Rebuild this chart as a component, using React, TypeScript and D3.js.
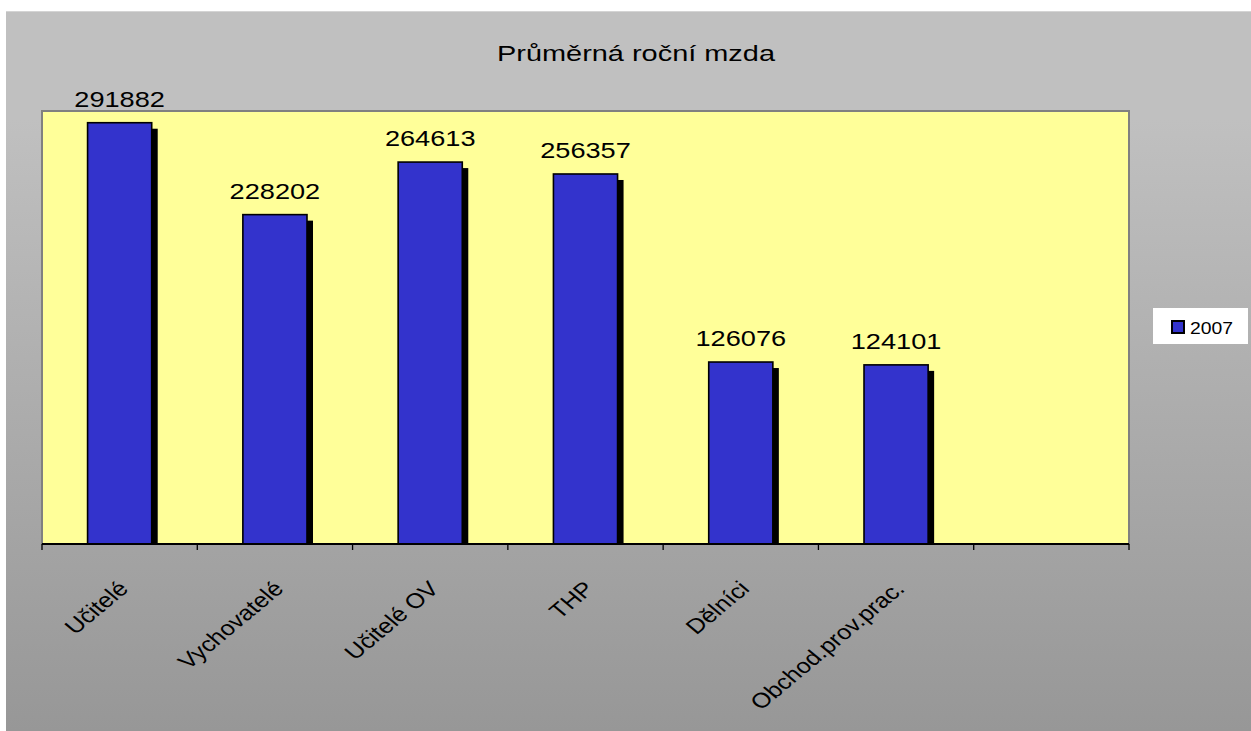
import React from "react";
import * as d3 from "d3";

const title = "Průměrná roční mzda";
const categories = ["Učitelé", "Vychovatelé", "Učitelé OV", "THP", "Dělníci", "Obchod.prov.prac.", ""];
const values: (number | null)[] = [291882, 228202, 264613, 256357, 126076, 124101, null];
const seriesName = "2007";
const yMax = 300000;

const W = 1251;
const H = 731;
const plot = { left: 42, top: 111, right: 1129, bottom: 544 };
const FONT = "'Liberation Sans', Arial, sans-serif";

export default function App() {
  const x = d3.scaleBand<string>().domain(categories.map((c, i) => String(i))).range([plot.left, plot.right]).padding(0);
  const y = d3.scaleLinear().domain([0, yMax]).range([plot.bottom, plot.top]);
  const bw = x.bandwidth() * 0.413;
  const shadow = 6;
  const ticks = d3.range(categories.length + 1).map((i) => plot.left + i * x.step());

  return (
    <svg width={W} height={H} style={{ position: "absolute", left: 0, top: 0 }} fontFamily={FONT}>
      <defs>
        <linearGradient id="bg" x1="0" y1="0" x2="0" y2="1">
          <stop offset="0" stopColor="#c0c0c0" />
          <stop offset="0.15" stopColor="#c0c0c0" />
          <stop offset="1" stopColor="#979797" />
        </linearGradient>
      </defs>
      <rect x={0} y={0} width={W} height={H} fill="#ffffff" />
      <rect x={6} y={11} width={W - 6} height={H - 11} fill="url(#bg)" />
      <line x1={6} x2={W} y1={11.5} y2={11.5} stroke="#d4d4d4" strokeWidth={1} />
      <text x={636} y={61} fontSize={22} textAnchor="middle" textLength={278} lengthAdjust="spacingAndGlyphs" fill="#000">
        {title}
      </text>
      <rect x={plot.left} y={plot.top} width={plot.right - plot.left} height={plot.bottom - plot.top} fill="#ffff99" stroke="#808080" strokeWidth={2} />
      {values.map((v, i) => {
        if (v == null) return null;
        const cx = (x(String(i)) as number) + x.bandwidth() / 2;
        const top = y(v);
        return (
          <g key={"b" + i}>
            <rect x={cx - bw / 2 + shadow} y={top + shadow} width={bw} height={plot.bottom - top - shadow} fill="#000" />
            <rect x={cx - bw / 2} y={top} width={bw} height={plot.bottom - top} fill="#3333cc" stroke="#000" strokeWidth={1.6} />
            <text x={cx} y={top - 16} fontSize={22} textAnchor="middle" textLength={String(v).length * 15.1} lengthAdjust="spacingAndGlyphs" fill="#000">
              {String(v)}
            </text>
          </g>
        );
      })}
      <line x1={plot.left} x2={plot.right} y1={plot.bottom} y2={plot.bottom} stroke="#000" strokeWidth={2} />
      {ticks.map((t, i) => (
        <line key={"t" + i} x1={t} x2={t} y1={plot.bottom} y2={plot.bottom + 6} stroke="#000" strokeWidth={1.3} />
      ))}
      {categories.map((c, i) => {
        if (!c) return null;
        const cx = (x(String(i)) as number) + x.bandwidth() / 2;
        return (
          <text key={"c" + i} transform={`translate(${cx + 10},${590}) scale(1.2,1) rotate(-45)`} fontSize={21} textAnchor="end" fill="#000">
            {c}
          </text>
        );
      })}
      <rect x={1153} y={308} width={95} height={36} fill="#ffffff" />
      <rect x={1172} y={321} width={12} height={12} fill="#3333cc" stroke="#000" strokeWidth={2} />
      <text x={1190} y={334} fontSize={17} textLength={43} lengthAdjust="spacingAndGlyphs" fill="#000">
        {seriesName}
      </text>
    </svg>
  );
}
